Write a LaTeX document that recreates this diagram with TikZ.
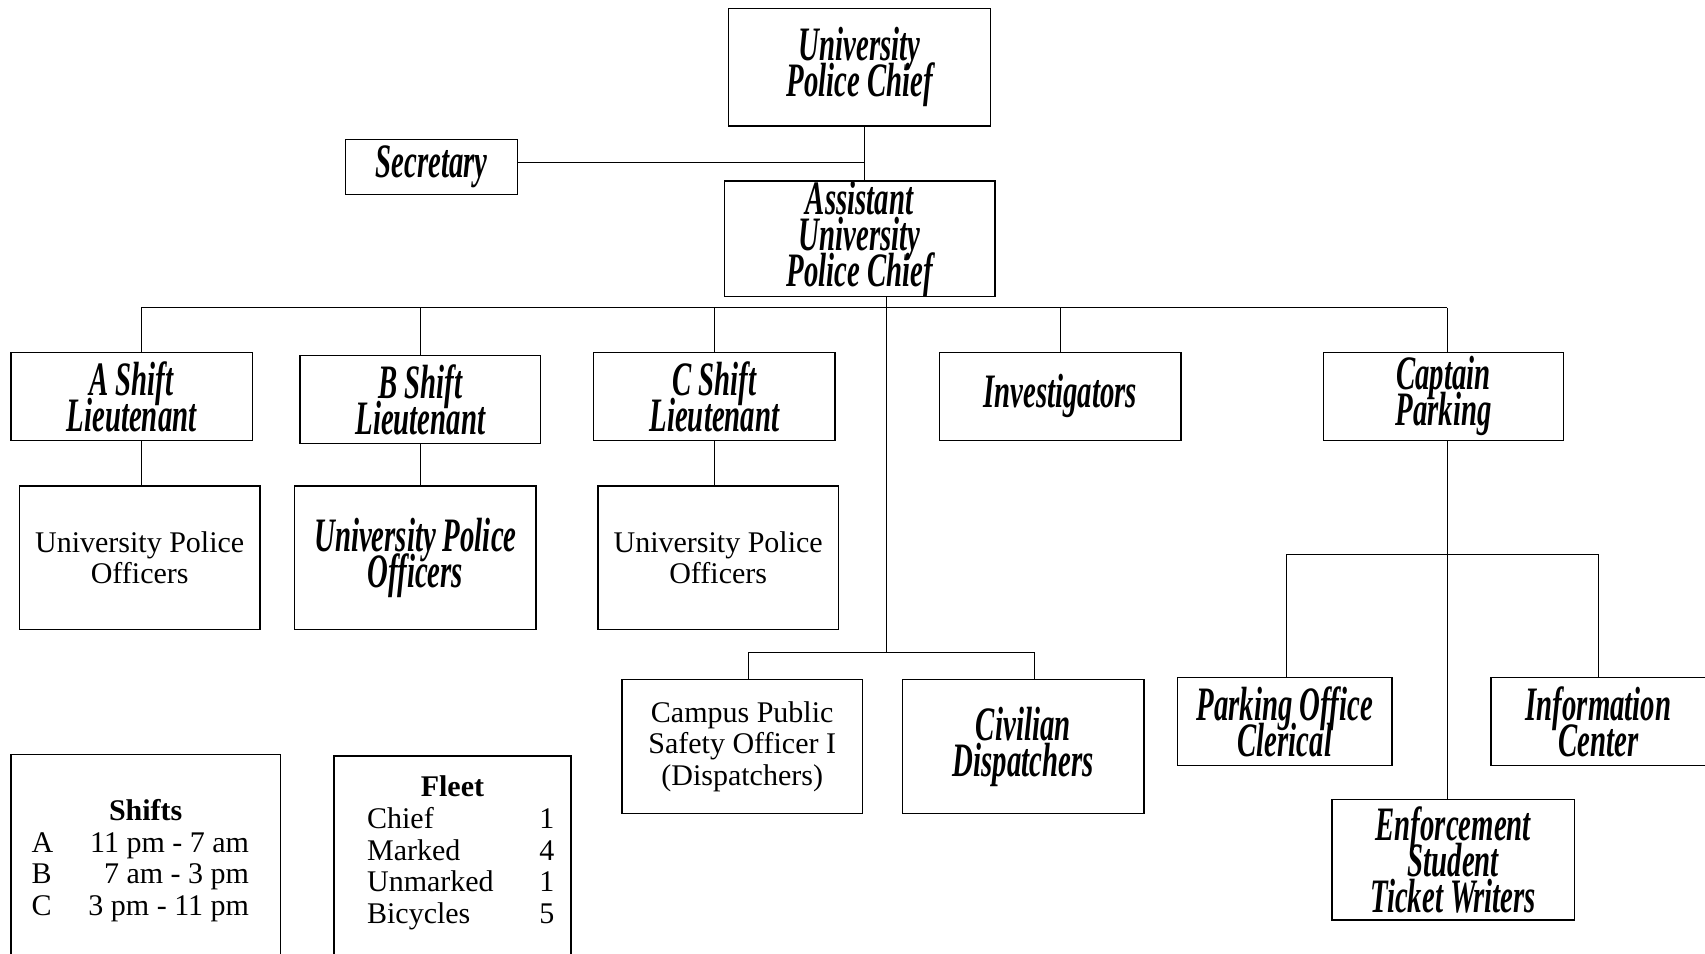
\documentclass[tikz,border=0pt]{standalone}
\usepackage{fontspec}
\setmainfont{Liberation Serif}
\newfontfamily\narrowbi[FakeStretch=0.6]{Liberation Serif}
\newcommand{\squeezed}{\narrowbi\bfseries\itshape\fontsize{24}{18}\selectfont\lineskiplimit=-100pt\relax}
\newcommand{\plaintext}{\fontsize{15}{15.8}\selectfont}

\begin{document}
\begin{tikzpicture}[x=0.5pt,y=-0.5pt,
    post/.style={draw,line width=0.7pt,inner sep=0pt,align=center,font=\squeezed},
    plainpost/.style={post,font=\plaintext},
    legend/.style={draw,line width=0.7pt,inner sep=0pt,font=\plaintext},
    link/.style={line width=0.5pt}]
\useasboundingbox (0,0) rectangle (1705,954);

% top of the chart
\node[post,minimum width=131pt,minimum height=58.7pt] (chief) at (859.6,67.4) {University\\Police Chief};
\node[post,minimum width=86pt,minimum height=27.7pt] (sec) at (431.7,166.9) {Secretary};
\node[post,minimum width=135.4pt,minimum height=53.8pt] (asst) at (859.6,238.7) {Assistant\\University\\Police Chief};

% second row
\node[post,minimum width=120.7pt,minimum height=44pt] (ltA) at (131.6,396.4) {A Shift\\Lieutenant};
\node[post,minimum width=120.2pt,minimum height=44pt] (ltB) at (420.3,399.6) {B Shift\\Lieutenant};
\node[post,minimum width=120.7pt,minimum height=44pt] (ltC) at (714.4,396.4) {C Shift\\Lieutenant};
\node[post,minimum width=120.7pt,minimum height=44pt] (inv) at (1060.2,396.4) {Investigators};
\node[post,minimum width=120.2pt,minimum height=44pt] (capt) at (1443.5,396.4) {Captain\\Parking};

% officers
\node[plainpost,minimum width=120.2pt,minimum height=71.8pt] (upoA) at (139.7,557.9) {University Police\\Officers};
\node[post,minimum width=120.7pt,minimum height=71.8pt] (upoB) at (415.4,557.9) {University Police\\Officers};
\node[plainpost,minimum width=120.2pt,minimum height=71.8pt] (upoC) at (718.2,557.9) {University Police\\Officers};

% dispatch
\node[plainpost,minimum width=120.2pt,minimum height=66.9pt] (cpso) at (742.2,746.5) {Campus Public\\Safety Officer I\\(Dispatchers)};
\node[post,minimum width=120.7pt,minimum height=66.9pt] (civ) at (1023.2,746.5) {Civilian\\Dispatchers};

% parking
\node[post,minimum width=107.2pt,minimum height=44pt] (poc) at (1284.8,721.5) {Parking Office\\Clerical};
\node[post,minimum width=107.7pt,minimum height=44pt] (info) at (1598.5,721.5) {Information\\Center};
\node[post,minimum width=121.3pt,minimum height=60.4pt] (enf) at (1453.3,859.6) {Enforcement\\Student\\Ticket Writers};

% legends
\node[legend,minimum width=134.8pt,minimum height=107pt] (shifts) at (145.7,861.7) {\begin{tabular}{@{}l@{\hspace{17.6pt}}r@{\hspace{5.4pt}}}
  \multicolumn{2}{c}{\textbf{Shifts}}\\
  A & 11 pm - 7 am\\
  B & 7 am - 3 pm\\
  C & 3 pm - 11 pm
\end{tabular}};
\node[legend,minimum width=118.6pt,minimum height=103.5pt] (fleet) at (452.4,859.3) {\begin{tabular}{@{\hspace{10.3pt}}l@{\hspace{22.8pt}}r@{\hspace{2pt}}}
  \multicolumn{2}{c}{\textbf{Fleet}}\\
  Chief & 1\\
  Marked & 4\\
  Unmarked & 1\\
  Bicycles & 5\\[5.5pt]
\end{tabular}};

% connectors
\coordinate (cstem) at (864.5,126.1);
\coordinate (busL) at (141.4,307.7);
\coordinate (busR) at (1447.3,307.7);
\coordinate (dispBus) at (886.2,652.4);
\coordinate (dL) at (748.1,652.4);
\coordinate (dR) at (1034.1,652.4);
\coordinate (pL) at (1286.4,554.6);
\coordinate (pR) at (1598.5,554.6);

\draw[link] (cstem) -- (cstem |- asst.north);
\draw[link] ([yshift=2.2pt]sec.east) -- ([yshift=2.2pt]sec.east -| cstem);
\draw[link] (busL) -- (busR);
\draw[link] (asst.south -| dispBus) -- (dispBus);
\draw[link] (busL) -- (busL |- ltA.north);
\draw[link] (ltB.north |- busL) -- (ltB.north);
\draw[link] (ltC.north |- busL) -- (ltC.north);
\draw[link] (inv.north |- busL) -- (inv.north);
\draw[link] (busR) -- (busR |- capt.north);
\draw[link] (busL |- ltA.south) -- (busL |- upoA.north);
\draw[link] (ltB.south) -- (ltB.south |- upoB.north);
\draw[link] (ltC.south) -- (ltC.south |- upoC.north);
\draw[link] (dL) -- (dR);
\draw[link] (dL) -- (dL |- cpso.north);
\draw[link] (dR) -- (dR |- civ.north);
\draw[link] (busR |- capt.south) -- (busR |- enf.north);
\draw[link] (pL) -- (pR);
\draw[link] (pL) -- (pL |- poc.north);
\draw[link] (pR) -- (pR |- info.north);
\end{tikzpicture}
\end{document}
